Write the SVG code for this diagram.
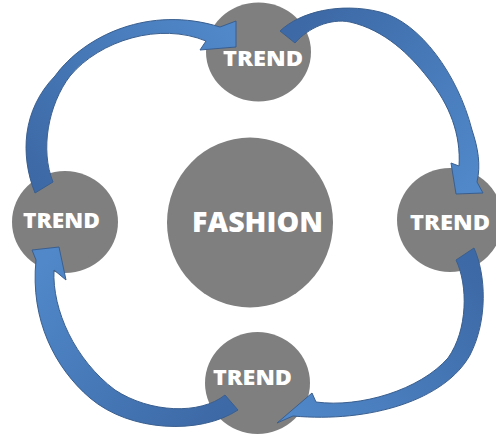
<svg xmlns="http://www.w3.org/2000/svg" width="496" height="435" viewBox="0 0 496 435">
  <defs>
    <style>
      .node { fill: #7f7f7f; }
      .label { fill: #ffffff; font-family: "Open Sans", "DejaVu Sans", "Liberation Sans", sans-serif; font-weight: 800; text-anchor: middle; }
      .trend { font-size: 21.5px; }
      .hub { font-size: 28.5px; }
      .arrow { stroke: #3a5f8f; stroke-width: 1; stroke-linejoin: miter; }
    </style>
    <!-- each arrow shades from a deeper blue at its tail to a lighter blue at its head -->
    <linearGradient id="g1" gradientUnits="userSpaceOnUse" x1="40" y1="190" x2="235" y2="40">
      <stop offset="0" stop-color="#3d69a6"/>
      <stop offset="1" stop-color="#5088c9"/>
    </linearGradient>
    <linearGradient id="g2" gradientUnits="userSpaceOnUse" x1="290" y1="35" x2="465" y2="190">
      <stop offset="0" stop-color="#3d69a6"/>
      <stop offset="1" stop-color="#5088c9"/>
    </linearGradient>
    <linearGradient id="g3" gradientUnits="userSpaceOnUse" x1="465" y1="255" x2="285" y2="415">
      <stop offset="0" stop-color="#3d69a6"/>
      <stop offset="1" stop-color="#5088c9"/>
    </linearGradient>
    <linearGradient id="g4" gradientUnits="userSpaceOnUse" x1="230" y1="405" x2="50" y2="255">
      <stop offset="0" stop-color="#3d69a6"/>
      <stop offset="1" stop-color="#5088c9"/>
    </linearGradient>
  </defs>

  <rect width="496" height="435" fill="#ffffff"/>

  <g id="fashion">
    <ellipse class="node" cx="250" cy="222.5" rx="83" ry="85"/>
    <text class="label hub" x="257.5" y="232" textLength="131" lengthAdjust="spacingAndGlyphs">FASHION</text>
  </g>

  <g id="trend-top">
    <ellipse class="node" cx="258.5" cy="52" rx="52.5" ry="49.5"/>
    <text class="label trend" x="263" y="66" textLength="80" lengthAdjust="spacingAndGlyphs">TREND</text>
  </g>

  <g id="trend-left">
    <ellipse class="node" cx="65" cy="222" rx="53" ry="51"/>
    <text class="label trend" x="61.5" y="228" textLength="77" lengthAdjust="spacingAndGlyphs">TREND</text>
  </g>

  <g id="trend-right">
    <ellipse class="node" cx="450" cy="220" rx="53" ry="52"/>
    <text class="label trend" x="450" y="230" textLength="80" lengthAdjust="spacingAndGlyphs">TREND</text>
  </g>

  <g id="trend-bottom">
    <ellipse class="node" cx="257.5" cy="383" rx="52.5" ry="51"/>
    <text class="label trend" x="252.5" y="385" textLength="79" lengthAdjust="spacingAndGlyphs">TREND</text>
  </g>

  <g id="connectors">
    <!-- left trend to top trend -->
    <path class="arrow" fill="url(#g1)" d="M35,193 C20,155 22,110 55,76 C85,35 150,5 220,27 L236,21 L236,47 L200,50 L206,41 C160,22 100,40 70,76 C48,105 40,150 53,182 Z"/>
    <!-- top trend to right trend -->
    <path class="arrow" fill="url(#g2)" d="M280,31 C300,12 340,2 380,12 C420,22 458,75 472,130 C478,148 481,165 477,182 L483,193 L456,194 L451,163 L459,166 C461,135 450,105 428,78 C410,55 385,30 350,22 C330,18 308,28 295,43 Z"/>
    <!-- right trend to bottom trend -->
    <path class="arrow" fill="url(#g3)" d="M474,248 C486,275 488,320 470,355 C445,400 370,423 293,416 L277,423 L312,393 L316,402 C360,408 420,390 448,358 C468,330 468,285 456,260 Z"/>
    <!-- bottom trend to left trend -->
    <path class="arrow" fill="url(#g4)" d="M238,410 C200,435 130,432 90,398 C55,368 30,320 36,260 L32,250 L59,247 L66,280 L54,270 C52,310 75,360 115,390 C150,413 200,415 225,395 Z"/>
  </g>
</svg>
